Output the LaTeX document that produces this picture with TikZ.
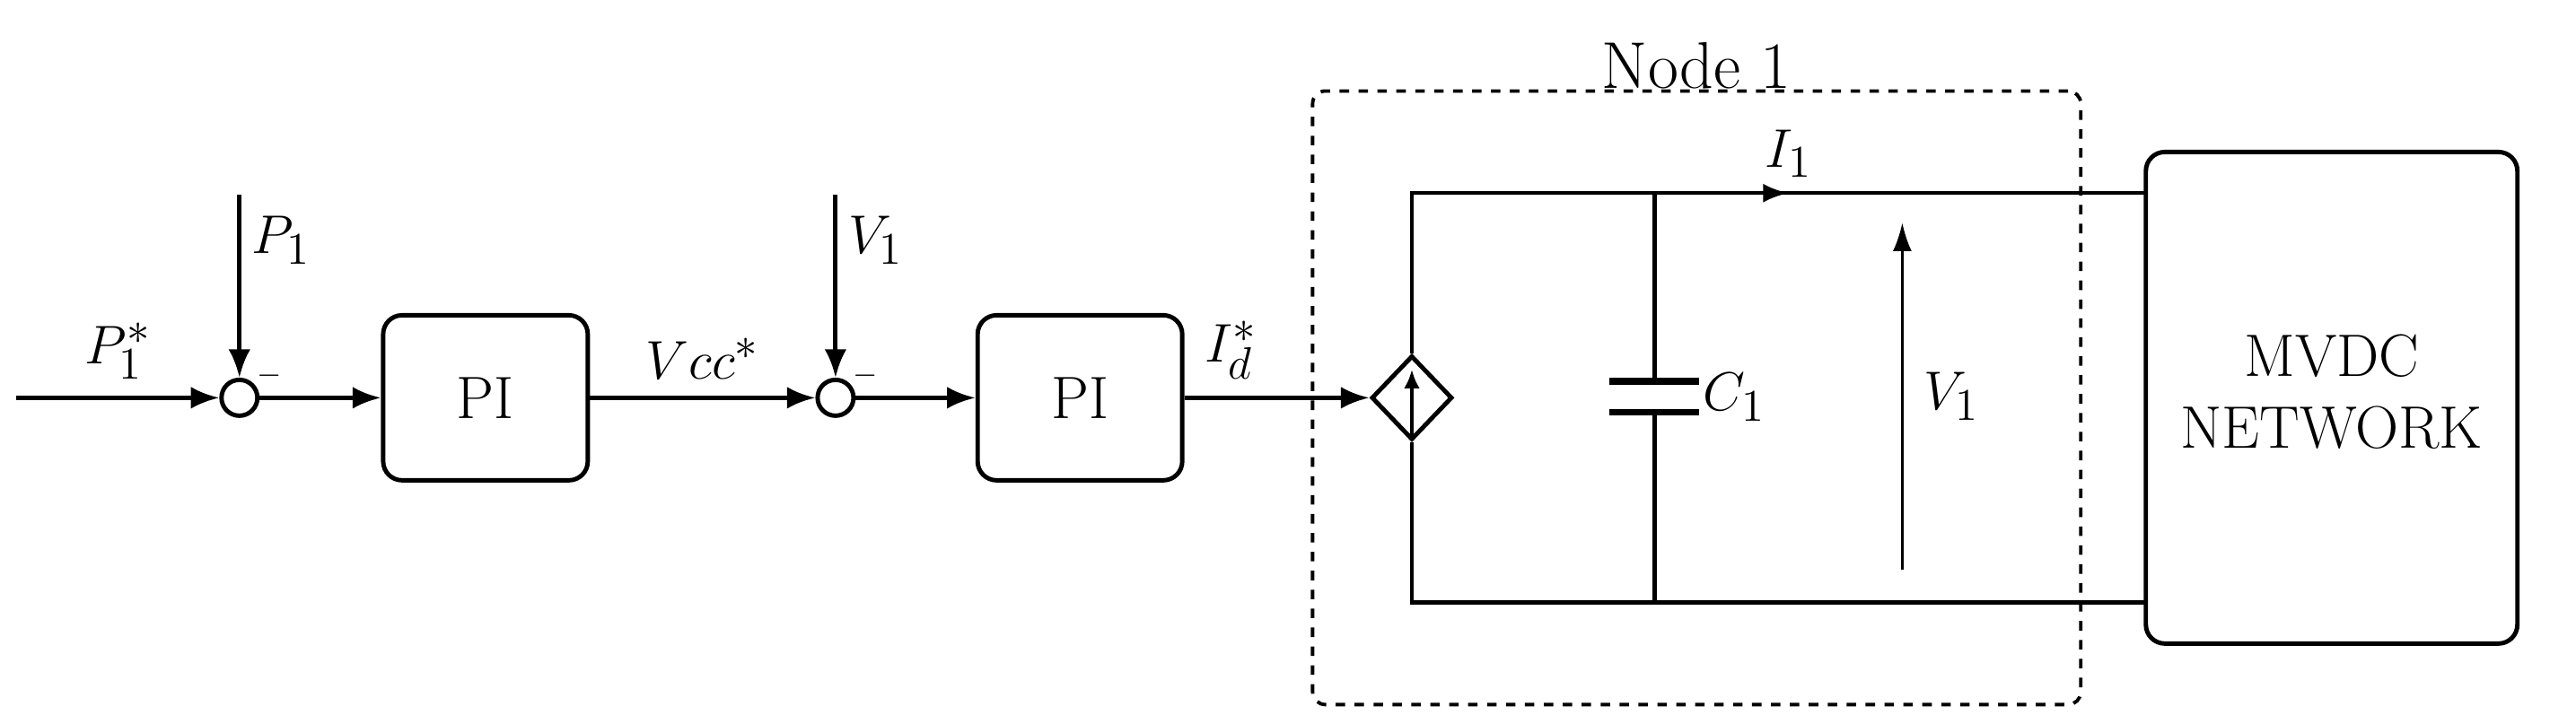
\documentclass[tikz,border=0pt]{standalone}
\usetikzlibrary{positioning,shapes.geometric,arrows.meta,calc}

\begin{document}
\begin{tikzpicture}[x=0.184mm, y=-0.184mm, line width=1.4pt, font=\fontsize{19}{23}\selectfont]
\tikzstyle{block}=[rectangle, draw, rounded corners=6pt, minimum width=22.8mm, minimum height=18.4mm]
\tikzstyle{sum}=[circle, draw, minimum size=4mm, inner sep=0pt]
\tikzstyle{sig}=[-{Latex[length=9pt,width=7pt]}]
\tikzstyle{wire}=[line width=1.2pt]

\useasboundingbox (0,0) rectangle (1560,438.6);

% Control chain
\coordinate (in) at (10,241);
\node[sum] (s1) at (145,241) {};
\node[block] (pi1) at (294,241) {PI};
\node[sum] (s2) at (506,241) {};
\node[block] (pi2) at (654,241) {PI};
\node[diamond, draw, minimum width=9mm, minimum height=9.4mm, inner sep=0pt] (src) at (855,241) {};
\coordinate (p1) at (145,118);
\coordinate (v1) at (506,118);

\draw[sig] (in) -- node[above=2pt] {$P_1^*$} (s1);
\draw[sig] (p1) -- node[pos=0.25, right] {$P_1$} (s1);
\draw[sig] (s1) -- (pi1);
\draw[sig] (pi1) -- node[above=2pt] {$Vcc^*$} (s2);
\draw[sig] (v1) -- node[pos=0.25, right] {$V_1$} (s2);
\draw[sig] (s2) -- (pi2);
\draw[sig] (pi2) -- node[above=2pt, pos=0.25] {$I_d^*$} (src);
\node[above right=-5pt and -3pt of s1, font=\normalsize] (m1) {$-$};
\node[above right=-5pt and -3pt of s2, font=\normalsize] (m2) {$-$};
\draw[-{Latex[length=6pt,width=5pt]}, line width=1.2pt] ([yshift=-13pt]src.center) -- ([yshift=9pt]src.center);

% Node 1 circuit
\node[block, minimum width=41.4mm, minimum height=54.8mm] (net) at (1412,241) {\begin{tabular}{c}MVDC\\NETWORK\end{tabular}};
\coordinate (tl) at (855,117);
\coordinate (bl) at (855,365);
\coordinate (tc) at (1002,117);
\coordinate (bc) at (1002,365);
\coordinate (tr) at (1300,117);
\coordinate (br) at (1300,365);
\coordinate (ca) at (1002,231);
\coordinate (cb) at (1002,250);
\draw[wire] (src.north) -- (tl) -- (tr);
\draw[wire] (src.south) -- (bl) -- (br);
\draw[wire] (tc) -- (ca) (cb) -- (bc);
\draw[line width=2pt] ([xshift=-5mm]ca) -- ([xshift=5mm]ca);
\draw[line width=2pt] ([xshift=-5mm]cb) -- ([xshift=5mm]cb);
\node[right=4mm of $(ca)!0.5!(cb)$] (c1) {$C_1$};
\draw[wire, -{Latex[length=8pt,width=6pt]}] (tc) -- node[above=1pt, pos=1] {$I_1$} (1083,117);
\coordinate (va) at (1152,345);
\coordinate (vb) at (1152,135);
\draw[line width=0.8pt, -{Latex[length=9pt,width=6pt]}] (va) -- (vb);
\node[right=1mm of $(va)!0.5!(vb)$] (vlab) {$V_1$};

% Node 1 frame
\node[rectangle, draw, dashed, line width=1.1pt, rounded corners=4pt, minimum width=85.6mm, minimum height=68.4mm] (frame) at (1027.5,241) {};
\node[above=-4pt of frame.north, font=\fontsize{21}{25}\selectfont] (flab) {Node 1};
\end{tikzpicture}
\end{document}
